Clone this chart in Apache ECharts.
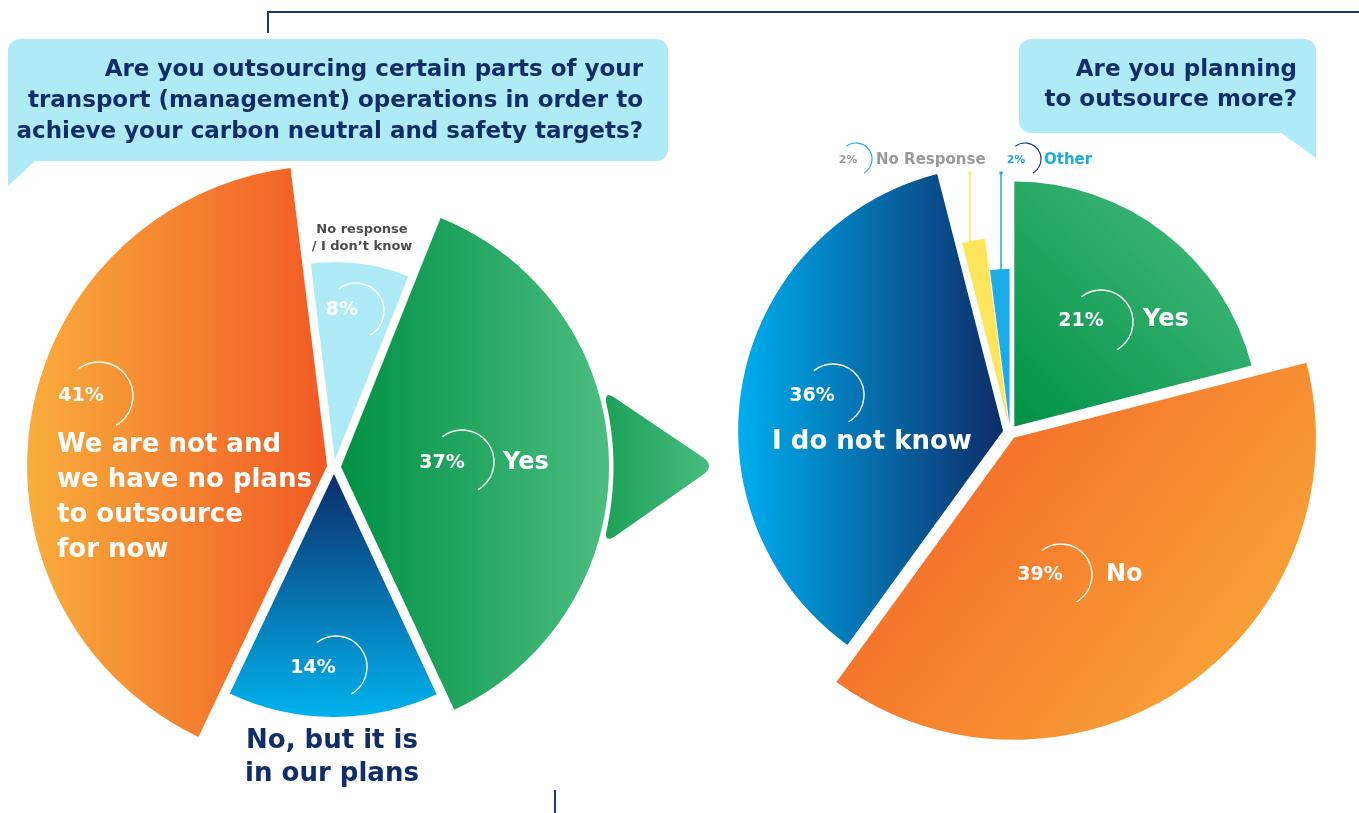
<!DOCTYPE html>
<html>
<head>
<meta charset="utf-8">
<script src="https://cdn.jsdelivr.net/npm/echarts@6/dist/echarts.min.js"></script>
<style>
html,body{margin:0;padding:0;background:#fff;}
#chart{width:1359px;height:813px;}
</style>
</head>
<body>
<div id="chart"></div>
<script>
// ---------- DATA ----------
const leftTitle = 'Are you outsourcing certain parts of your\ntransport (management) operations in order to\nachieve your carbon neutral and safety targets?';
const leftCategories = ['Yes', 'No, but it is\nin our plans', 'We are not and\nwe have no plans\nto outsource\nfor now', 'No response\n/ I don\u2019t know'];
const leftValues = [37, 14, 41, 8];

const rightTitle = 'Are you planning\nto outsource more?';
const rightCategories = ['Yes', 'No', 'I do not know', 'No Response', 'Other'];
const rightValues = [21, 39, 36, 2, 2];

// ---------- STYLE ----------
const FONT = '"DejaVu Sans", sans-serif';
const NAVY = '#102d6a';
const BUBBLE = '#aeebf7';
const grad = (x, y, x2, y2, c1, c2) => new echarts.graphic.LinearGradient(x, y, x2, y2, [{offset: 0, color: c1}, {offset: 1, color: c2}]);

const leftStyle = {
  center: [334, 467], startAngle: 68.2, offset: 7,
  radii: [268, 243, 300, 198],
  colors: [
    grad(0, 0, 1, 0, '#009245', '#4bbd80'),
    grad(0, 0, 0, 1, '#0c2d69', '#00b2ee'),
    grad(0, 0, 1, 0, '#f9ad3c', '#f15a24'),
    '#aeebf7'
  ]
};
const rightStyle = {
  center: [1010, 432], startAngle: 90, offset: 7,
  radii: [245, 302, 265, 186, 156],
  offsets: [7, 7, 7, 9, 7],
  colors: [
    grad(0, 1, 1, 0, '#009245', '#4cbe82'),
    grad(0, 0, 1, 1, '#f15a24', '#fbb03b'),
    grad(0, 0, 1, 0, '#00aeef', '#0c2d69'),
    '#ffe55c',
    '#1aace6'
  ]
};

function sliceSeries(style, names, values, idx) {
  return {
    type: 'pie',
    center: style.center,
    radius: [0, style.radii[idx]],
    startAngle: style.startAngle,
    clockwise: true,
    silent: true,
    animation: false,
    selectedMode: 'multiple',
    selectedOffset: style.offsets ? style.offsets[idx] : style.offset,
    label: {show: false},
    labelLine: {show: false},
    emphasis: {disabled: true, scale: false},
    data: values.map((v, i) => ({
      value: v,
      name: names[i],
      selected: i === idx,
      itemStyle: i === idx ? {color: style.colors[idx], borderWidth: 0} : {color: 'rgba(0,0,0,0)', borderWidth: 0}
    }))
  };
}

const series = [];
leftValues.forEach((v, i) => series.push(sliceSeries(leftStyle, leftCategories, leftValues, i)));
rightValues.forEach((v, i) => series.push(sliceSeries(rightStyle, rightCategories, rightValues, i)));

// ---------- GRAPHIC HELPERS ----------
const D = Math.PI / 180;
function txt(x, y, text, size, fill, align, extra) {
  return {
    type: 'text', x: x, y: y, silent: true, z: 100,
    style: Object.assign({
      text: text, fill: fill, font: 'bold ' + size + 'px ' + FONT,
      textAlign: align || 'center', textVerticalAlign: 'middle'
    }, extra || {})
  };
}
function ring(cx, cy, r, stroke, lw) {
  return {
    type: 'arc', silent: true, z: 100,
    shape: {cx: cx, cy: cy, r: r, startAngle: -128 * D, endAngle: 60 * D, clockwise: true},
    style: {stroke: stroke, lineWidth: lw || 1.4, fill: null}
  };
}
function line(x1, y1, x2, y2, color, lw) {
  return {type: 'line', silent: true, z: 90, shape: {x1: x1, y1: y1, x2: x2, y2: y2}, style: {stroke: color, lineWidth: lw || 2}};
}
function dot(cx, cy, r, color) {
  return {type: 'circle', silent: true, z: 91, shape: {cx: cx, cy: cy, r: r}, style: {fill: color}};
}
function quad(p0, c, p1, n) {
  const pts = [];
  for (let k = 0; k <= n; k++) {
    const t = k / n, u = 1 - t;
    pts.push([u * u * p0[0] + 2 * u * t * c[0] + t * t * p1[0], u * u * p0[1] + 2 * u * t * c[1] + t * t * p1[1]]);
  }
  return pts;
}
const arrowPts = [].concat(
  [[612, 396]],
  quad([704, 458], [714, 466], [704, 474], 8),
  quad([614, 537], [605, 542], [606, 533], 4),
  quad([606, 533], [621, 466], [606, 402], 16),
  quad([606, 402], [605, 392], [612, 396], 4)
);

const graphics = [
  line(268, 12, 1359, 12, '#1f3a72', 2),
  line(268, 11, 268, 33, '#1f3a72', 2),
  line(555, 790, 555, 813, '#1f3a72', 2),
  {type: 'rect', silent: true, z: 50, shape: {x: 8, y: 39, width: 660, height: 122, r: 12}, style: {fill: BUBBLE}},
  {type: 'polygon', silent: true, z: 50, shape: {points: [[8, 150], [8, 186], [36, 160]]}, style: {fill: BUBBLE}},
  txt(643, 101, leftTitle, 23, NAVY, 'right', {lineHeight: 31}),
  {type: 'rect', silent: true, z: 50, shape: {x: 1019, y: 39, width: 297, height: 94, r: 12}, style: {fill: BUBBLE}},
  {type: 'polygon', silent: true, z: 50, shape: {points: [[1280, 132], [1316, 158], [1316, 120]]}, style: {fill: BUBBLE}},
  txt(1297, 85, rightTitle, 23, NAVY, 'right', {lineHeight: 30}),
  {type: 'polygon', silent: true, z: 40, shape: {points: arrowPts}, style: {fill: grad(0, 0, 1, 0, '#1ca258', '#48bb7e')}}
];

// left labels
graphics.push(txt(442, 463, leftValues[0] + '%', 19, '#fff'), ring(462, 462, 32, '#fff'));
graphics.push(txt(503, 463, leftCategories[0], 24, '#fff', 'left'));
graphics.push(txt(313, 668, leftValues[1] + '%', 19, '#fff'), ring(336, 667, 31, '#fff'));
graphics.push(txt(332, 758, leftCategories[1], 26, NAVY, 'center', {lineHeight: 33}));
graphics.push(txt(81, 396, leftValues[2] + '%', 19, '#fff'), ring(99, 396, 34, '#fff'));
graphics.push(txt(57, 498, leftCategories[2], 26, '#fff', 'left', {lineHeight: 35}));
graphics.push(txt(342, 310, leftValues[3] + '%', 19, '#fff'), ring(356, 311, 28, '#fff'));
graphics.push(txt(362, 238, leftCategories[3], 13, '#4d4d4d', 'center', {lineHeight: 17}));

// right labels
graphics.push(txt(1081, 321, rightValues[0] + '%', 19, '#fff'), ring(1101, 322, 32, '#fff'));
graphics.push(txt(1143, 320, rightCategories[0], 24, '#fff', 'left'));
graphics.push(txt(1040, 575, rightValues[1] + '%', 19, '#fff'), ring(1061, 575, 31, '#fff'));
graphics.push(txt(1106, 575, rightCategories[1], 24, '#fff', 'left'));
graphics.push(txt(812, 396, rightValues[2] + '%', 19, '#fff'), ring(833, 395, 31, '#fff'));
graphics.push(txt(872, 442, rightCategories[2], 26, '#fff', 'center'));
graphics.push(txt(848, 160, rightValues[3] + '%', 11, '#9a9a9a'), ring(856, 159, 16, '#29abe2', 1.2));
graphics.push(txt(876, 160, rightCategories[3], 15, '#9a9a9a', 'left'));
graphics.push(txt(1016, 160, rightValues[4] + '%', 11, '#1aace6'), ring(1025, 159, 16, '#1f3a72', 1.2));
graphics.push(txt(1044, 160, rightCategories[4], 15, '#1aace6', 'left'));
graphics.push(line(970, 173, 970, 242, '#ffe55c', 1.5), dot(970, 173, 1.8, '#ffe55c'), dot(970, 242, 1.8, '#ffe55c'));
graphics.push(line(1001, 173, 1001, 271, '#1aace6', 1.5), dot(1001, 173, 1.8, '#1aace6'), dot(1001, 271, 1.8, '#1aace6'));

const chart = echarts.init(document.getElementById('chart'), null, {renderer: 'canvas'});
chart.setOption({
  backgroundColor: '#fff',
  animation: false,
  series: series,
  graphic: {elements: graphics}
});
</script>
</body>
</html>
